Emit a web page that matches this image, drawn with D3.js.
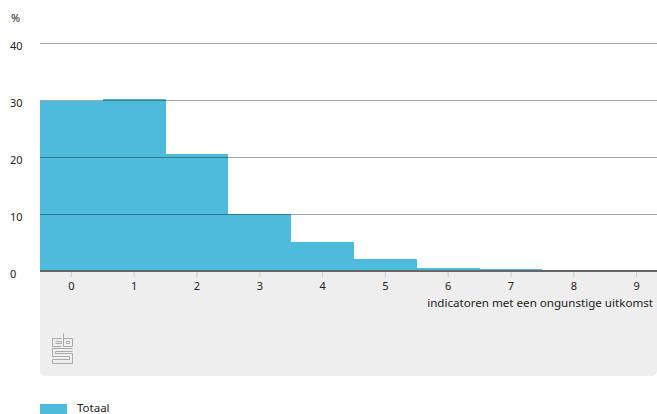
<!DOCTYPE html>
<html>
<head>
<meta charset="utf-8">
<script src="https://cdn.jsdelivr.net/npm/d3@7"></script>
<style>
  body { margin: 0; background: #fff; }
  svg { display: block; font-family: "Noto Sans", sans-serif; }
</style>
</head>
<body>
<svg id="chart" width="657" height="414"></svg>
<script>
// data
var categories = ["0", "1", "2", "3", "4", "5", "6", "7", "8", "9"];
var totaal = [29.9, 30.1, 20.5, 10.0, 5.1, 2.1, 0.5, 0.3, 0.1, 0.05];
var yTicks = [0, 10, 20, 30, 40];
var xTitle = "indicatoren met een ongunstige uitkomst";
var seriesName = "Totaal";

var svg = d3.select("svg#chart");
var W = 657;

var plotLeft = 40, plotBottom = 271, plotTop = 43;
var step = 62.8;

var x = d3.scaleBand()
   .domain(categories)
   .range([plotLeft, plotLeft + step * categories.length])
   .padding(0);

var y = d3.scaleLinear().domain([0, 40]).range([plotBottom, plotTop]);

// grey panel under the axis
var panelBottom = 376, r = 6;
svg.append("path")
   .attr("d", "M" + plotLeft + "," + plotBottom +
      "H" + W + "V" + (panelBottom - r) +
      "Q" + W + "," + panelBottom + " " + (W - r) + "," + panelBottom +
      "H" + (plotLeft + r) +
      "Q" + plotLeft + "," + panelBottom + " " + plotLeft + "," + (panelBottom - r) + "Z")
   .attr("fill", "#eeeeee");

// bars
svg.append("g")
   .attr("shape-rendering", "crispEdges")
   .selectAll("rect")
   .data(totaal)
   .enter()
   .append("rect")
   .attr("x", (d, i) => Math.round(x(categories[i])))
   .attr("width", (d, i) => Math.round(x(categories[i]) + x.bandwidth()) - Math.round(x(categories[i])))
   .attr("y", d => y(d))
   .attr("height", d => plotBottom - y(d))
   .attr("fill", "#4dbbdb");

// gridlines (drawn over the bars)
svg.append("g")
   .selectAll("line")
   .data(yTicks.filter(d => d > 0))
   .enter()
   .append("line")
   .attr("x1", plotLeft)
   .attr("x2", W)
   .attr("y1", d => Math.round(y(d)) + 0.5)
   .attr("y2", d => Math.round(y(d)) + 0.5)
   .attr("stroke", "#000")
   .attr("stroke-opacity", 0.35)
   .attr("stroke-width", 1);

// y labels
svg.append("g")
   .selectAll("text")
   .data(yTicks)
   .enter()
   .append("text")
   .attr("x", 10)
   .attr("y", d => y(d) + 6.5)
   .attr("font-size", 11)
   .attr("fill", "#222")
   .text(d => d);

svg.append("text")
   .attr("x", 11)
   .attr("y", 22)
   .attr("font-size", 11)
   .attr("fill", "#222")
   .text("%");

// x axis
var xAxis = d3.axisBottom(x).tickSize(6).tickPadding(5);
var gx = svg.append("g")
   .attr("transform", "translate(0," + plotBottom + ")")
   .call(xAxis);
gx.select(".domain").remove();
gx.selectAll(".tick line").attr("stroke", "#c8c8c8").attr("y1", 1);
gx.selectAll(".tick text")
   .attr("font-size", 11)
   .attr("font-family", "Noto Sans, sans-serif")
   .attr("fill", "#222");

svg.append("line")
   .attr("x1", plotLeft)
   .attr("x2", W)
   .attr("y1", plotBottom)
   .attr("y2", plotBottom)
   .attr("stroke", "#666")
   .attr("stroke-width", 2);

svg.append("text")
   .attr("x", 653)
   .attr("y", 307)
   .attr("text-anchor", "end")
   .attr("font-size", 11.6)
   .attr("fill", "#222")
   .text(xTitle);

// cbs logo
var logo = svg.append("g")
   .attr("transform", "translate(52,333)")
   .attr("fill", "none")
   .attr("stroke", "#aaa")
   .attr("stroke-width", 1);
logo.append("path").attr("d", "M9.5,5.5H0.5V13.5H9.5M3.5,8.5H9.5V10.5H3.5");
logo.append("path").attr("d", "M11.5,0.5V13.5H20.5V5.5H11.5M14.5,8.5H17.5V10.5H14.5V8.5");
logo.append("path").attr("d", "M20.5,15.5H0.5V23.5H17.5V26.5H0.5V30.5H20.5V20.5H3.5V18.5H20.5");

// legend
svg.append("rect")
   .attr("x", 40)
   .attr("y", 404)
   .attr("width", 27)
   .attr("height", 10)
   .attr("fill", "#4dbbdb");
svg.append("text")
   .attr("x", 77)
   .attr("y", 412)
   .attr("font-size", 11.5)
   .attr("fill", "#222")
   .text(seriesName);
</script>
</body>
</html>
